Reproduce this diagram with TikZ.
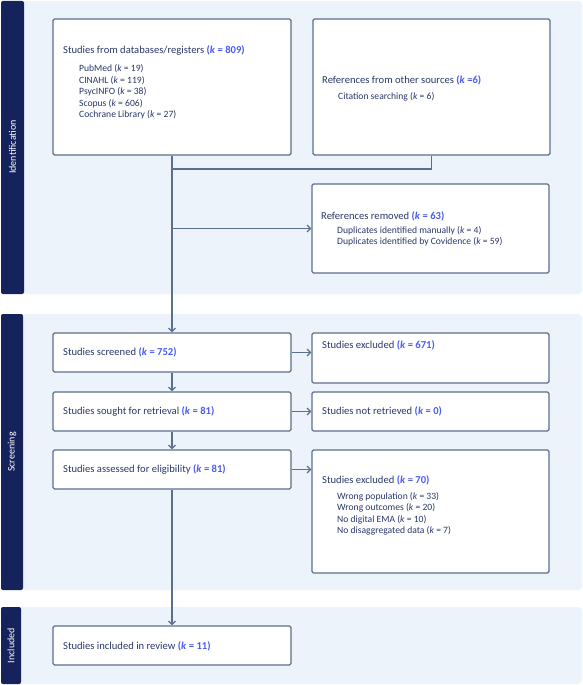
\documentclass[tikz,border=0pt]{standalone}
\usepackage{fontspec}
\setmainfont{Carlito}
\usetikzlibrary{arrows.meta,positioning}

\definecolor{panelbg}{HTML}{EDF3FB}
\definecolor{barnavy}{HTML}{15225B}
\definecolor{edgegray}{HTML}{5B6F8E}
\definecolor{txtnavy}{HTML}{2A3868}
\definecolor{kblue}{HTML}{4A5CF2}

\newcommand{\kmain}[1]{{\bfseries\color{kblue}(\textit{k} #1)}}
\newcommand{\ksub}[1]{(\textit{k} #1)}

\begin{document}
\begin{tikzpicture}[
    x=1pt, y=-1pt,
    every node/.style={font=\fontsize{10.6}{12}\selectfont, text=txtnavy},
    box/.style={draw=edgegray, line width=1.2pt, rounded corners=1.5pt, fill=white, inner sep=0pt},
    head/.style={anchor=west, inner sep=0pt},
    sub/.style={anchor=west, inner sep=0pt, align=left, font=\fontsize{9.6}{11.5}\selectfont},
    phase/.style={rotate=90, text=white, font=\fontsize{10}{11}\selectfont},
    flow/.style={draw=edgegray, line width=1.2pt, -{Straight Barb[length=3.5pt,width=7pt]}},
    link/.style={draw=edgegray, line width=1.2pt}
]

\useasboundingbox (0,0) rectangle (583,685);

% panels
\fill[panelbg, rounded corners=4pt] (1,1) rectangle (582,294);
\fill[panelbg, rounded corners=4pt] (1,314) rectangle (582,590);
\fill[panelbg, rounded corners=4pt] (1,607) rectangle (582,684);
\fill[barnavy, rounded corners=2pt] (1,1) rectangle (24,294);
\fill[barnavy, rounded corners=2pt] (1,314) rectangle (23,590);
\fill[barnavy, rounded corners=2pt] (1,607) rectangle (21,684);
\node[phase] (pid) at (12.5,147) {Identification};
\node[phase] (pscr) at (12,452) {Screening};
\node[phase] (pinc) at (11,645.5) {Included};

% boxes
\node[box, minimum width=238pt, minimum height=136pt] (db) at (172,87) {};
\node[box, minimum width=237pt, minimum height=136pt] (other) at (431.5,87) {};
\node[box, minimum width=237pt, minimum height=89pt] (removed) at (430.5,228.5) {};
\node[box, minimum width=238pt, minimum height=39pt] (screened) at (172,352.5) {};
\node[box, minimum width=237pt, minimum height=50pt] (excla) at (430.5,358) {};
\node[box, minimum width=238pt, minimum height=39pt] (sought) at (172,411.5) {};
\node[box, minimum width=237pt, minimum height=39pt] (notret) at (430.5,411.5) {};
\node[box, minimum width=238pt, minimum height=39pt] (assessed) at (172,469.5) {};
\node[box, minimum width=237pt, minimum height=123pt] (exclb) at (430.5,511.5) {};
\node[box, minimum width=238pt, minimum height=39pt] (included) at (172,645.5) {};

% texts
\node[head] (dbhead) at (63,50) {Studies from databases/registers \kmain{= 809}};
\node[sub] (dblist) at (79,92) {PubMed \ksub{= 19}\\CINAHL \ksub{= 119}\\PsycINFO \ksub{= 38}\\Scopus \ksub{= 606}\\Cochrane Library \ksub{= 27}};
\node[head] (othhead) at (322,80) {References from other sources \kmain{=6}};
\node[sub] (othlist) at (338,97) {Citation searching \ksub{= 6}};
\node[head] (remhead) at (321,216) {References removed \kmain{= 63}};
\node[sub] (remlist) at (337,236.5) {Duplicates identified manually \ksub{= 4}\\Duplicates identified by Covidence \ksub{= 59}};
\node[head] (scrtext) at (63,352) {Studies screened \kmain{= 752}};
\node[head] (exatext) at (322,345) {Studies excluded \kmain{= 671}};
\node[head] (sghtext) at (63,411) {Studies sought for retrieval \kmain{= 81}};
\node[head] (nrttext) at (322,411) {Studies not retrieved \kmain{= 0}};
\node[head] (asstext) at (63,469) {Studies assessed for eligibility \kmain{= 81}};
\node[head] (exbhead) at (322,480) {Studies excluded \kmain{= 70}};
\node[sub] (exblist) at (337,514) {Wrong population \ksub{= 33}\\Wrong outcomes \ksub{= 20}\\No digital EMA \ksub{= 10}\\No disaggregated data \ksub{= 7}};
\node[head] (inctext) at (63,646) {Studies included in review \kmain{= 11}};

% connectors
\coordinate (merge) at (172,169);
\draw[link] (other.south) |- (merge);
\draw[flow] (db.south) -- (screened.north);
\draw[flow] (removed.west -| db.south) -- (removed.west);
\draw[flow] (screened.east) -- (screened.east -| excla.west);
\draw[flow] (sought.east) -- (notret.west);
\draw[flow] (assessed.east) -- (assessed.east -| exclb.west);
\draw[flow] (screened.south) -- (sought.north);
\draw[flow] (sought.south) -- (assessed.north);
\draw[flow] (assessed.south) -- (included.north);

\end{tikzpicture}
\end{document}
